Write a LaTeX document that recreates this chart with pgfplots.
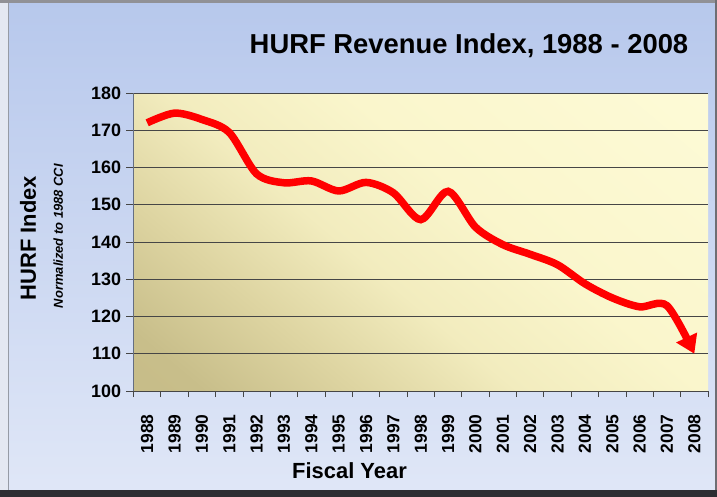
\documentclass[border=0pt]{standalone}
\usepackage{fontspec}
\setmainfont{Liberation Sans}
\usepackage{pgfplots}
\pgfplotsset{compat=1.18}
\usetikzlibrary{arrows.meta}
\definecolor{bgTop}{RGB}{183,200,236}
\definecolor{bgBot}{RGB}{224,231,247}
\definecolor{gridc}{RGB}{70,70,70}
\definecolor{yaxc}{RGB}{100,110,130}
\pgfdeclareverticalshading{plotbg}{100bp}{%
  color(0bp)=(rgb,255:red,196;green,185;blue,132);
  color(20bp)=(rgb,255:red,200;green,190;blue,138);
  color(32bp)=(rgb,255:red,222;green,213;blue,162);
  color(44bp)=(rgb,255:red,242;green,236;blue,190);
  color(58bp)=(rgb,255:red,250;green,246;blue,204);
  color(100bp)=(rgb,255:red,255;green,253;blue,220)}
\begin{document}
\begin{tikzpicture}
\fill[top color=bgTop, bottom color=bgBot] (0bp,0bp) rectangle (717bp,497bp);
\fill[color={rgb,255:red,228;green,232;blue,242}] (0bp,7bp) rectangle (8bp,497bp);
\fill[color={rgb,255:red,150;green,155;blue,165}] (8bp,7bp) rectangle (9bp,494bp);
\fill[color={rgb,255:red,145;green,145;blue,150}] (0bp,494bp) rectangle (717bp,497bp);
\fill[color={rgb,255:red,110;green,110;blue,115}] (715bp,0bp) rectangle (717bp,497bp);
\fill[color={rgb,255:red,45;green,45;blue,50}] (0bp,0bp) rectangle (717bp,7bp);
\begin{axis}[
  at={(133.5bp,106bp)}, anchor=south west,
  scale only axis, width=574.5bp, height=298bp,
  xmin=-0.5, xmax=20.5, ymin=100, ymax=180,
  clip=false,
  axis x line*=bottom, axis y line*=left,
  axis line style={-},
  x axis line style={draw=gridc, line width=1bp},
  y axis line style={draw=yaxc, line width=1bp},
  axis background/.style={shade, shading=plotbg, shading angle=-40},
  xtick={0,...,20},
  xticklabels={1988,1989,1990,1991,1992,1993,1994,1995,1996,1997,1998,1999,2000,2001,2002,2003,2004,2005,2006,2007,2008},
  minor xtick={-0.5,0.5,...,20.5},
  xtick pos=left, ytick pos=left,
  tick align=outside,
  major x tick style={draw=none},
  minor tick length=6bp,
  major tick length=7bp,
  every tick/.style={draw=gridc, line width=0.8bp},
  ytick={100,110,...,180},
  ymajorgrids,
  major grid style={draw=gridc, line width=0.8bp},
  /pgf/number format/assume math mode=true,
  yticklabel style={font=\bfseries\fontsize{18}{20}\selectfont, xshift=-2bp},
  xticklabel style={font=\bfseries\fontsize{17.5}{19}\selectfont, rotate=90, anchor=east, xshift=-13bp},
  title={HURF Revenue Index, 1988 - 2008},
  title style={at={(axis description cs:0.584,1.111)}, anchor=base, font=\bfseries\fontsize{27.5}{30}\selectfont},
  xlabel={Fiscal Year},
  xlabel style={at={(axis description cs:0.376,-0.295)}, anchor=base, font=\bfseries\fontsize{22}{24}\selectfont},
  ylabel={HURF Index},
  ylabel style={at={(axis description cs:-0.1836,0.513)}, anchor=center, rotate=0, font=\bfseries\fontsize{22}{24}\selectfont},
]
\addplot[red, line width=7.5bp, smooth, tension=0.5, -{Triangle[width=22bp,length=18bp]}] coordinates {
(0,172.0) (1,174.6) (2,172.9) (3,169.4) (4,158.3) (5,155.9) (6,156.4) (7,153.7) (8,156.0) (9,153.2) (10,146.0) (11,153.6) (12,144.0) (13,139.3) (14,136.7) (15,133.9) (16,128.8) (17,125.0) (18,122.6) (19,122.9) (20,110.0)
};
\node[rotate=90, font=\bfseries\itshape\fontsize{13}{15}\selectfont] at (axis description cs:-0.131,0.52) {Normalized to 1988 CCI};
\end{axis}
\end{tikzpicture}
\end{document}
